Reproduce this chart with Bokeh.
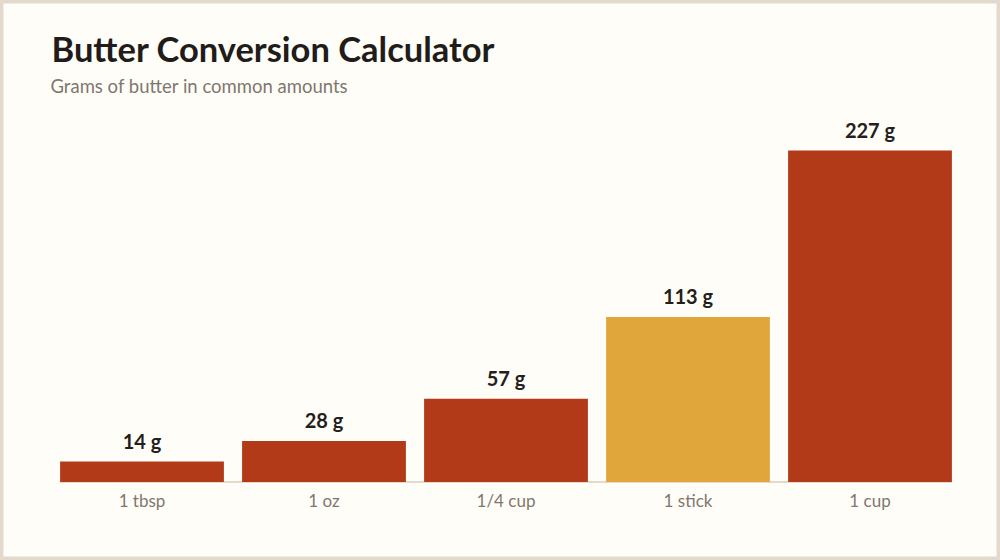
from bokeh.plotting import figure
from bokeh.models import Range1d, Label, ColumnDataSource
from bokeh.core.properties import value
from bokeh.embed import file_html
from bokeh.resources import INLINE

categories = ["1 tbsp", "1 oz", "1/4 cup", "1 stick", "1 cup"]
grams = [14, 28, 57, 113, 227]
highlight = [False, False, False, True, False]
value_labels = [f"{g} g" for g in grams]

RED = "#B33A19"
GOLD = "#E0A63B"
BG = "#FFFDF8"
FRAME = "#E3DACB"

W, H = 1000, 560
px_x = 182.0          # pixels per category
x0_px = 141.5         # pixel centre of first category
base_px = 481.5       # pixel row of value zero (from top)
px_y = (base_px - 150.0) / max(grams)

xs = list(range(len(categories)))
colors = [GOLD if h else RED for h in highlight]
src = ColumnDataSource(dict(x=xs, cat=categories, g=grams, color=colors, lab=value_labels))

x_start = -x0_px / px_x
y_start = -(H - base_px) / px_y
p = figure(
    width=W, height=H,
    x_range=Range1d(x_start, x_start + W / px_x),
    y_range=Range1d(y_start, y_start + H / px_y),
    x_axis_type=None, y_axis_type=None,
    output_backend="svg", toolbar_location=None, title=None,
    min_border=0,
)
p.background_fill_color = BG
p.border_fill_color = BG
p.outline_line_color = FRAME
p.outline_line_width = 6
p.grid.visible = False

# baseline (x axis line)
p.segment(x0=[xs[0] - 0.45], y0=[0], x1=[xs[-1] + 0.45], y1=[0],
          line_color=FRAME, line_width=2)

p.vbar(x="x", top="g", width=0.9, color="color", source=src, line_color=None)

p.text(x="x", y="g", text="lab", source=src, y_offset=-21,
       text_align="center", text_baseline="alphabetic",
       text_font=value("Lato"), text_font_style="bold", text_font_size="20px",
       text_color="#241F1C")

# category tick labels
p.text(x="x", y=0, text="cat", source=src, y_offset=18.5,
       text_align="center", text_baseline="alphabetic",
       text_font=value("Lato"), text_font_size="17px",
       text_color="#7F776E")

p.add_layout(Label(x=51, y=512, x_units="screen", y_units="screen",
                   text="Butter Conversion Calculator", text_font="Lato",
                   text_font_style="bold", text_font_size="34.5px",
                   text_color="#211C19", text_baseline="alphabetic"))
p.add_layout(Label(x=50, y=475, x_units="screen", y_units="screen",
                   text="Grams of butter in common amounts", text_font="Lato",
                   text_font_size="18.5px", text_color="#7F776E",
                   text_baseline="alphabetic"))

open("out.html", "w").write(file_html(p, INLINE))
